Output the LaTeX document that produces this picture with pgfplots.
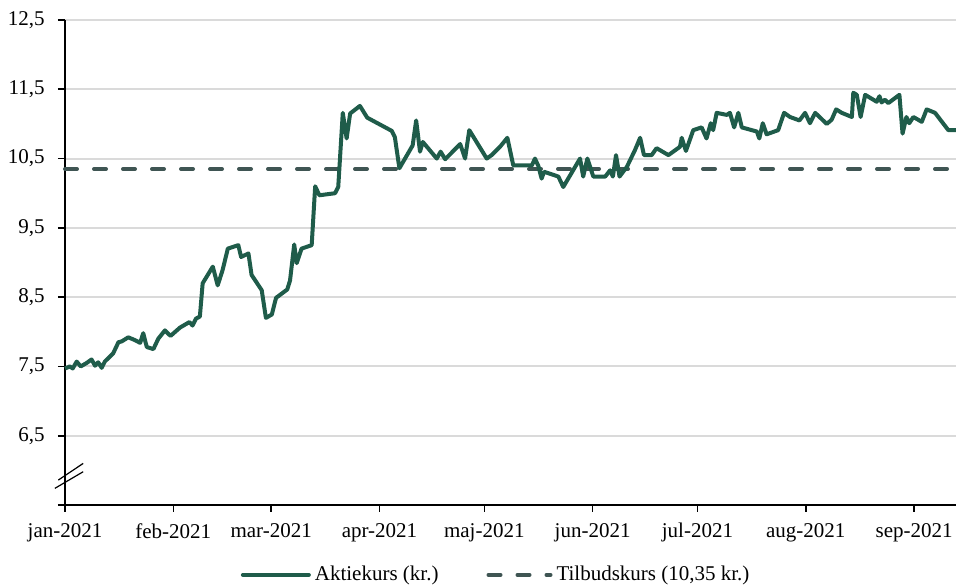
\documentclass[border=0pt]{standalone}
\usepackage{fontspec}
\setmainfont{Liberation Serif}
\usepackage{pgfplots}
\pgfplotsset{compat=1.18}
\definecolor{aktie}{HTML}{1F5C4A}
\definecolor{tilbud}{HTML}{3F5553}
\definecolor{gridc}{HTML}{DADADA}
\newcommand{\chartfont}{\fontsize{10.5}{12}\selectfont}
\begin{document}
\chartfont
\begin{tikzpicture}
\begin{axis}[
  scale only axis,
  width=445.5pt, height=242.5pt,
  xmin=0, xmax=255, ymin=5.5, ymax=12.5,
  axis x line*=bottom, axis y line*=left,
  axis line style={black, line width=0.8pt},
  tick align=outside,
  major tick length=3.5pt,
  tick style={black, line width=0.8pt},
  xtick={0,31,59,90,120,151,181,212,243},
  xticklabels={jan-2021,feb-2021,mar-2021,apr-2021,maj-2021,jun-2021,jul-2021,aug-2021,sep-2021},
  ytick={5.5,6.5,7.5,8.5,9.5,10.5,11.5,12.5},
  yticklabels={,{6,5},{7,5},{8,5},{9,5},{10,5},{11,5},{12,5}},
  ymajorgrids,
  major grid style={gridc, line width=1pt},
  tick label style={font=\chartfont},
  yticklabel style={xshift=-3pt},
  xticklabel style={yshift=-2pt},
  /pgf/number format/assume math mode=true,
  clip=false,
  legend style={draw=none, fill=none, at={(0.485,-0.144)}, anchor=center,
    legend columns=2, font=\chartfont, inner sep=0pt,
    /tikz/every even column/.append style={column sep=21pt}},
  legend cell align=left,
]
\addplot[tilbud, line width=2pt, dash pattern=on 6pt off 8.5pt, line cap=round, forget plot]
  coordinates {(0,10.35) (255,10.35)};
\addplot[aktie, line width=2pt, line join=round, mark=none,
  legend image code/.code={\draw[aktie, line width=2pt, line cap=round] (0pt,0pt) -- (33pt,0pt);}]
  coordinates {
(0,7.47) (1.4,7.50) (2.2,7.47) (3.35,7.57) (4.5,7.50) (6.2,7.55) (7.6,7.60)
(8.6,7.51) (9.5,7.56) (10.5,7.48) (11.4,7.57) (13.8,7.69) (15.3,7.85) (16.2,7.86)
(18.1,7.92) (20.0,7.88) (21.5,7.84) (22.4,7.98) (23.4,7.78) (25.3,7.75)
(26.7,7.90) (28.6,8.02) (30.2,7.94) (32.9,8.06) (35.6,8.14) (36.5,8.09)
(37.5,8.19) (38.6,8.22) (39.4,8.70) (42.3,8.94) (43.7,8.67) (45.1,8.89)
(46.6,9.20) (49.6,9.25) (50.4,9.08) (52.5,9.13) (53.4,8.82) (56.3,8.60)
(57.5,8.20) (59.2,8.25) (60.4,8.49) (63.6,8.61) (64.4,8.74) (65.6,9.26)
(66.3,8.99) (67.7,9.20) (70.6,9.25) (71.6,10.10) (72.8,9.97) (77.3,10.00)
(78.2,10.09) (79.5,11.16) (80.6,10.79) (81.6,11.15) (84.4,11.26) (86.5,11.09)
(93.5,10.90) (94.4,10.81) (95.7,10.36) (99.5,10.69) (100.5,11.05) (101.6,10.60)
(102.4,10.74) (106.4,10.50) (107.5,10.60) (108.8,10.49) (113.1,10.71) (114.5,10.50)
(115.7,10.91) (120.7,10.50) (122.1,10.55) (124.5,10.67) (126.6,10.80) (128.3,10.40)
(133.6,10.40) (134.5,10.50) (135.5,10.39) (136.4,10.21) (137.1,10.31) (141.2,10.24)
(142.6,10.09) (147.4,10.50) (148.3,10.24) (149.5,10.50) (151.2,10.24) (154.6,10.24)
(156.0,10.33) (156.8,10.24) (157.7,10.55) (158.7,10.24) (160.8,10.38) (163.1,10.62)
(164.6,10.80) (165.7,10.55) (167.9,10.55) (169.3,10.65) (172.7,10.55) (176.0,10.67)
(176.5,10.80) (177.7,10.61) (179.8,10.91) (182.2,10.95) (183.6,10.79) (184.8,11.01)
(185.5,10.91) (186.5,11.16) (189.4,11.13) (190.3,11.16) (191.5,10.95) (192.7,11.16)
(193.7,10.95) (198.0,10.89) (198.7,10.79) (199.7,11.01) (200.8,10.85) (204.1,10.91)
(205.8,11.16) (207.5,11.10) (210.2,11.05) (211.8,11.16) (213.2,11.01) (214.7,11.16)
(218.0,11.00) (219.4,11.06) (220.7,11.21) (222.3,11.16) (225.2,11.10) (225.6,11.45)
(226.6,11.42) (227.7,11.10) (229.0,11.42) (232.3,11.32) (233.1,11.40) (233.7,11.31)
(234.7,11.35) (235.6,11.30) (238.8,11.42) (239.7,10.86) (240.8,11.10) (241.6,11.01)
(242.8,11.10) (245.2,11.03) (246.6,11.21) (249.0,11.16) (252.8,10.91) (255,10.91)
  };
\addlegendentry{Aktiekurs (kr.)}
\addlegendimage{tilbud, line width=2pt, dash pattern=on 6pt off 8.5pt, line cap=round,
  legend image code/.code={\draw[tilbud, line width=2pt, dash pattern=on 6pt off 8.5pt, line cap=round, dash phase=-1pt] (1pt,0pt) -- (33pt,0pt);}}
\addlegendentry{Tilbudskurs (10,35 kr.)}
\draw[black, line width=0.6pt] (axis cs:-1.9,5.86) -- (axis cs:5.2,6.10);
\draw[black, line width=0.6pt] (axis cs:-2.9,5.74) -- (axis cs:5.2,5.98);
\end{axis}
\pgfresetboundingbox
\path[use as bounding box] ([xshift=-32.5pt,yshift=-40pt]current axis.south west) rectangle ([yshift=10pt]current axis.north east);
\end{tikzpicture}
\end{document}
